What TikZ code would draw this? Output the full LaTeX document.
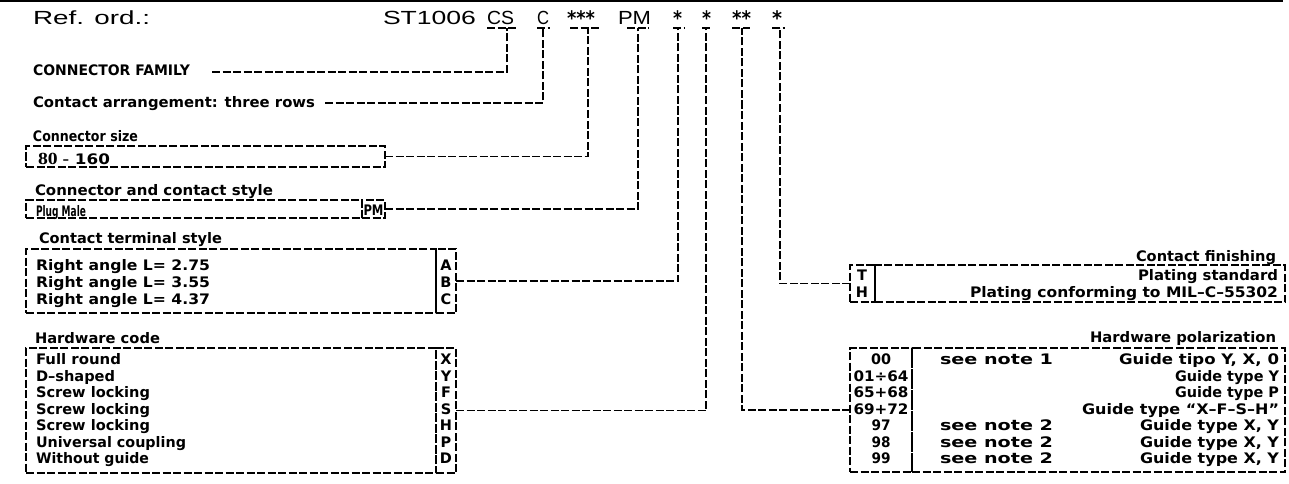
\documentclass[tikz,border=0pt]{standalone}
\usepackage{fontspec}
\setmainfont{Liberation Sans}
\newfontfamily\cadfont{DejaVu Sans}
\newfontfamily\serfont{Liberation Serif}
\newlength\fwl
\newcommand\fw[2]{\settowidth{\fwl}{#2}\scalebox{\fpeval{#1/\fwl}}[1]{#2}}
\begin{document}
\begin{tikzpicture}[x=1pt,y=-1pt,
  dl/.style={line width=1.7pt, dash pattern=on 8pt off 2.5pt},
  bx/.style={dl, draw, anchor=north west, inner sep=0pt, outer sep=0pt},
  tx/.style={inner sep=0pt, outer sep=0pt, font=\cadfont\bfseries\fontsize{14.5}{16}\selectfont},
  tl/.style={tx, anchor=base west},
  tr/.style={tx, anchor=base east},
  tc/.style={tx, anchor=base},
  big/.style={inner sep=0pt, outer sep=0pt, anchor=base west, font=\fontsize{19}{22}\selectfont},
  star/.style={inner sep=0pt, outer sep=0pt, anchor=base west, font=\cadfont\bfseries\fontsize{20}{22}\selectfont}]
\useasboundingbox (0,0) rectangle (1289,484);
% top rule
\coordinate (topL) at (0,1);
\coordinate (topR) at (1283,1);
\draw[line width=2pt] (topL) -- (topR);

% reference line
\node[big] (ref) at (33,25) {\fw{117}{Ref. ord.:}};
\node[big] (st) at (383,25) {\fw{93}{ST1006}};
\node[big] (cs) at (487,25) {\fw{27}{CS}};
\node[big] (c) at (537,25) {\fw{12}{C}};
\node[star] (s3) at (567,26) {\fw{28}{***}};
\node[big] (pm) at (618,25) {\fw{33}{PM}};
\node[star] (sa) at (673,26) {\fw{9}{*}};
\node[star] (sb) at (702,26) {\fw{9}{*}};
\node[star] (sc) at (732,26) {\fw{19}{**}};
\node[star] (sd) at (772,26) {\fw{10}{*}};

% underline marks and drop points
\coordinate (u1a) at (487,28); \coordinate (u1b) at (517,28); \coordinate (v1) at (507,28);
\coordinate (u2a) at (537,28); \coordinate (u2b) at (550,28); \coordinate (v2) at (543,28);
\coordinate (u3a) at (570,28); \coordinate (u3b) at (600,28); \coordinate (v3) at (588,28);
\coordinate (u4a) at (627,28); \coordinate (u4b) at (649,28); \coordinate (v4) at (638,28);
\coordinate (u5a) at (673,28); \coordinate (u5b) at (684,28); \coordinate (v5) at (678,28);
\coordinate (u6a) at (702,28); \coordinate (u6b) at (712,28); \coordinate (v6) at (706,28);
\coordinate (u7a) at (732,28); \coordinate (u7b) at (750,28); \coordinate (v7) at (742,28);
\coordinate (u8a) at (772,28); \coordinate (u8b) at (785,28); \coordinate (v8) at (780,28);
\foreach \i in {1,...,8} {\draw[dl] (u\i a) -- (u\i b);}

% left labels
\node[tl] (fam) at (33,76) {\fw{157}{CONNECTOR FAMILY}};
\node[tl] (arr) at (33,107) {\fw{282}{Contact arrangement: three rows}};
\node[tl] (szl) at (33,141) {\fw{105}{Connector size}};
\node[bx, minimum width=359pt, minimum height=21pt] (szbox) at (26,146) {};
\node[tl] (szt) at (38,164) {\fw{72}{{\serfont\fontsize{17}{18}\selectfont 80 -} 160}};
\node[tl] (stl) at (35,195) {\fw{238}{Connector and contact style}};
\node[bx, minimum width=336pt, minimum height=18pt] (stbox) at (26,200) {};
\node[bx, minimum width=23pt, minimum height=18pt] (pmbox) at (362,200) {};
\node[tl] (stt) at (36,216) {\fw{50}{Plug Male}};
\node[tc] (pmt) at (373.5,215) {\fw{20}{PM}};

\node[tl] (ctl) at (39,243) {\fw{183}{Contact terminal style}};
\node[bx, minimum width=410pt, minimum height=64pt] (ctbox) at (26,249) {};
\node[bx, minimum width=20pt, minimum height=64pt] (ctlet) at (436,249) {};
\node[tl] (ct1) at (36,270) {\fw{174}{Right angle L= 2.75}};
\node[tl] (ct2) at (36,287) {\fw{174}{Right angle L= 3.55}};
\node[tl] (ct3) at (36,304) {\fw{174}{Right angle L= 4.37}};
\node[tc] (la) at (446,270) {A};
\node[tc] (lb) at (446,287) {B};
\node[tc] (lc) at (446,304) {C};

\node[tl] (hwl) at (35,343) {\fw{125}{Hardware code}};
\node[bx, minimum width=410pt, minimum height=125pt] (hwbox) at (26,348) {};
\node[bx, minimum width=20pt, minimum height=125pt] (hwlet) at (436,348) {};
\node[tl] (hw1) at (36,364.5) {\fw{85}{Full round}};
\node[tl] (hw2) at (36,381) {\fw{79}{D–shaped}};
\node[tl] (hw3) at (36,397.5) {\fw{114}{Screw locking}};
\node[tl] (hw4) at (36,414) {\fw{114}{Screw locking}};
\node[tl] (hw5) at (36,430.5) {\fw{114}{Screw locking}};
\node[tl] (hw6) at (36,447) {\fw{150}{Universal coupling}};
\node[tl] (hw7) at (36,463.5) {\fw{113}{Without guide}};
\node[tc] (lx) at (446,364.5) {X};
\node[tc] (ly) at (446,381) {Y};
\node[tc] (lf) at (446,397.5) {F};
\node[tc] (ls) at (446,414) {S};
\node[tc] (lh) at (446,430.5) {H};
\node[tc] (lp) at (446,447) {P};
\node[tc] (ld) at (446,463.5) {D};

% right side
\node[tr] (cfl) at (1276,261) {\fw{140}{Contact finishing}};
\node[bx, minimum width=25pt, minimum height=37pt] (cflet) at (850,265) {};
\node[bx, minimum width=410pt, minimum height=37pt] (cfbox) at (875,265) {};
\node[tc] (lt) at (862,280) {T};
\node[tc] (lhh) at (862,297) {H};
\node[tr] (cf1) at (1278,280) {\fw{140}{Plating standard}};
\node[tr] (cf2) at (1278,297) {\fw{308}{Plating conforming to MIL–C–55302}};

\node[tr] (hpl) at (1276,342) {\fw{186}{Hardware polarization}};
\node[bx, minimum width=62pt, minimum height=124pt] (hpcode) at (850,348) {};
\node[bx, minimum width=373pt, minimum height=124pt] (hpbox) at (912,348) {};
\node[tc] (k1) at (881,364.5) {\fw{20}{00}};
\node[tc] (k2) at (881,381) {\fw{55}{01÷64}};
\node[tc] (k3) at (881,397.5) {\fw{55}{65+68}};
\node[tc] (k4) at (881,414) {\fw{55}{69+72}};
\node[tc] (k5) at (881,430.5) {\fw{19}{97}};
\node[tc] (k6) at (881,447) {\fw{19}{98}};
\node[tc] (k7) at (881,463.5) {\fw{19}{99}};
\node[tl] (n1) at (940,364.5) {\fw{113}{see note 1}};
\node[tl] (n5) at (940,430.5) {\fw{113}{see note 2}};
\node[tl] (n6) at (940,447) {\fw{113}{see note 2}};
\node[tl] (n7) at (940,463.5) {\fw{113}{see note 2}};
\node[tr] (g1) at (1279,364.5) {\fw{160}{Guide tipo Y, X, 0}};
\node[tr] (g2) at (1279,381) {\fw{104}{Guide type Y}};
\node[tr] (g3) at (1279,397.5) {\fw{104}{Guide type P}};
\node[tr] (g4) at (1279,414) {\fw{197}{Guide type “X–F–S–H”}};
\node[tr] (g5) at (1279,430.5) {\fw{139}{Guide type X, Y}};
\node[tr] (g6) at (1279,447) {\fw{139}{Guide type X, Y}};
\node[tr] (g7) at (1279,463.5) {\fw{139}{Guide type X, Y}};

% connectors
\coordinate (famend) at (212,72);
\coordinate (arrend) at (325,103);
\draw[dl] (famend) -| (v1);
\draw[dl] (arrend) -| (v2);
\draw[dl] (szbox.east) -| (v3);
\draw[dl] (pmbox.east) -| (v4);
\draw[dl] (ctlet.east) -| (v5);
\draw[dl] (hwlet.east) -| (v6);
\draw[dl] (hpcode.west) -| (v7);
\draw[dl] (cflet.west) -| (v8);
\end{tikzpicture}
\end{document}
